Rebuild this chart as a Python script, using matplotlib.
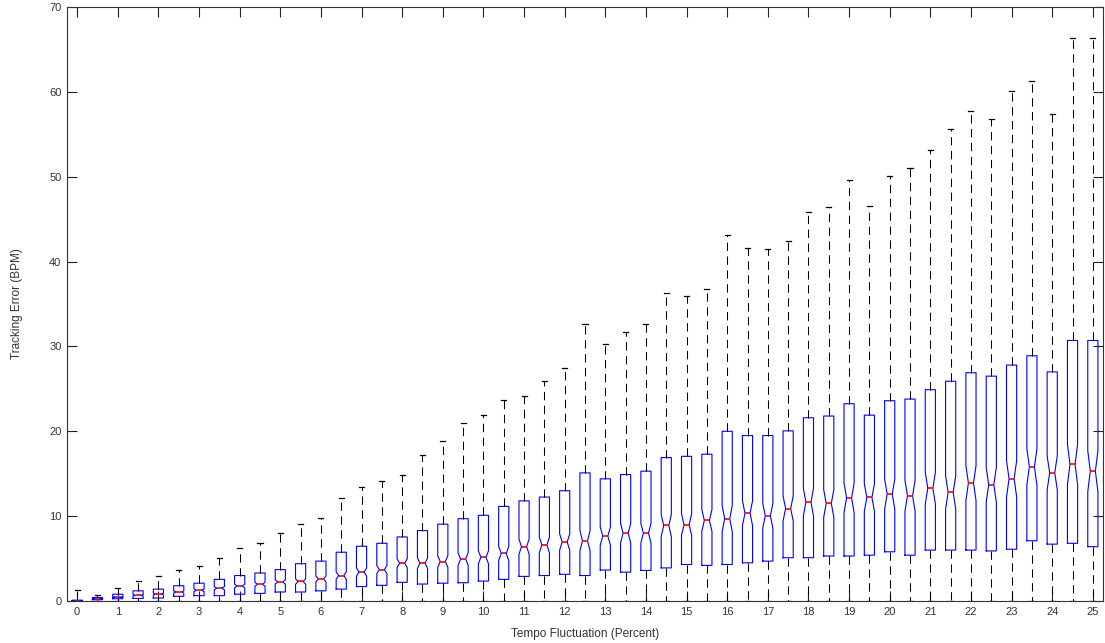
import matplotlib
matplotlib.use("Agg")
import matplotlib.pyplot as plt
import numpy as np

plt.rcParams['font.family'] = ['Liberation Sans', 'DejaVu Sans']
plt.rcParams['lines.scale_dashes'] = False

# Tempo fluctuation levels (percent)
positions = [i * 0.5 for i in range(51)]

# Per-box statistics (Tracking Error, BPM)
q1 = [0.0, 0.15, 0.27, 0.30, 0.35, 0.55, 0.63, 0.63, 0.80, 0.90,
      1.06, 1.06, 1.20, 1.40, 1.70, 1.85, 2.20, 2.00, 2.10, 2.15,
      2.35, 2.55, 2.90, 3.00, 3.15, 3.00, 3.65, 3.40, 3.60, 3.90,
      4.30, 4.20, 4.30, 4.50, 4.70, 5.10, 5.10, 5.30, 5.30, 5.40,
      5.80, 5.40, 6.00, 6.00, 6.00, 5.90, 6.10, 7.10, 6.70, 6.80,
      6.40]
medians = [0.05, 0.28, 0.45, 0.67, 0.83, 1.06, 1.26, 1.50, 1.77, 1.97,
           2.25, 2.30, 2.60, 3.00, 3.40, 3.70, 4.45, 4.45, 4.65, 4.95,
           5.15, 5.60, 6.40, 6.60, 6.95, 7.10, 7.65, 8.00, 8.00, 8.90,
           9.00, 9.50, 9.70, 10.35, 10.05, 10.90, 11.65, 11.50, 12.15, 12.20,
           12.60, 12.40, 13.30, 12.80, 13.90, 13.70, 14.40, 15.80, 15.10, 16.10,
           15.30]
q3 = [0.10, 0.40, 0.80, 1.20, 1.40, 1.80, 2.10, 2.55, 3.00, 3.30,
      3.70, 4.40, 4.70, 5.75, 6.45, 6.80, 7.55, 8.30, 9.05, 9.70,
      10.10, 11.15, 11.80, 12.25, 13.00, 15.10, 14.40, 14.90, 15.30, 16.90,
      17.05, 17.30, 20.00, 19.50, 19.50, 20.05, 21.60, 21.80, 23.25, 21.90,
      23.60, 23.80, 24.90, 25.90, 26.90, 26.50, 27.80, 28.90, 27.00, 30.70,
      30.70]
whisker_hi = [1.3, 0.7, 1.5, 2.35, 2.9, 3.65, 4.1, 5.1, 6.2, 6.8,
              8.0, 9.1, 9.8, 12.1, 13.4, 14.2, 14.9, 17.2, 18.9, 21.0,
              21.9, 23.7, 24.2, 25.9, 27.4, 32.7, 30.3, 31.7, 32.6, 36.3,
              36.0, 36.8, 43.1, 41.6, 41.5, 42.4, 45.9, 46.4, 49.6, 46.5,
              50.1, 51.0, 53.2, 55.6, 57.8, 56.8, 60.1, 61.3, 57.4, 66.4,
              66.4]
whisker_lo = [0.0] * 51

xtick_labels = [str(i) for i in range(26)]
ytick_values = [0, 10, 20, 30, 40, 50, 60, 70]

notch_factor = 1.57 / np.sqrt(250)

stats = []
for p, a, m, b, hi, lo in zip(positions, q1, medians, q3, whisker_hi, whisker_lo):
    iqr = b - a
    stats.append(dict(med=m, q1=a, q3=b, whislo=lo, whishi=hi,
                      cilo=m - notch_factor * iqr, cihi=m + notch_factor * iqr,
                      fliers=[]))

fig = plt.figure(figsize=(11.05, 6.43), dpi=100)
ax = fig.add_axes([67 / 1105, 42 / 643, 1036 / 1105, 594 / 643])

ax.bxp(stats, positions=positions, widths=0.25, shownotches=True,
       showfliers=False, manage_ticks=False,
       boxprops=dict(color='#0000ff', linewidth=0.8),
       medianprops=dict(color='#ff0000', linewidth=1.2),
       whiskerprops=dict(color='black', linewidth=0.75, linestyle=(0, (6, 4))),
       capprops=dict(color='black', linewidth=0.9))

ax.set_xlim(-0.25, 25.25)
ax.set_ylim(0, 70)
ax.set_xticks(range(26))
ax.set_xticklabels(xtick_labels)
ax.set_yticks(ytick_values)
ax.tick_params(direction='in', length=7, width=0.8, top=True, right=True,
               labelsize=8, colors='#222222', labelcolor='#333333', pad=4)
for s in ax.spines.values():
    s.set_color('#333333')
    s.set_linewidth(0.8)

ax.set_xlabel('Tempo Fluctuation (Percent)', fontsize=8.5, color='#333333', labelpad=8)
ax.set_ylabel('Tracking Error (BPM)', fontsize=8.5, color='#333333', labelpad=19)

fig.savefig('out.png', dpi=100)
